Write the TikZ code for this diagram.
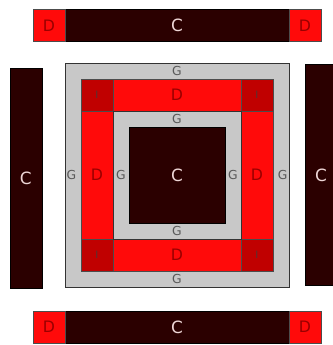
\documentclass[tikz,border=0pt]{standalone}
\usepackage{fontspec}
\setmainfont{DejaVu Sans}
\usepackage{tikz}
\usetikzlibrary{calc}
\definecolor{quiltdark}{HTML}{2B0000}
\definecolor{quiltred}{HTML}{FF0A0A}
\definecolor{quiltdeep}{HTML}{C00000}
\definecolor{quiltgray}{HTML}{C8C8C8}
\definecolor{quiltpink}{HTML}{EED6D6}

\begin{document}
\begin{tikzpicture} [x=0.5cm, y=0.5cm,
	cpiece/.style={fill=quiltdark, draw=black, line width=0.5pt},
	dpiece/.style={fill=quiltred, draw=black!70, line width=0.5pt},
	epiece/.style={fill=quiltdeep, draw=black!70, line width=0.5pt},
	gpiece/.style={fill=quiltgray, draw=black!80, line width=0.6pt},
	clabel/.style={text=quiltpink, font=\fontsize{15}{15}\selectfont},
	dlabel/.style={text=quiltdeep!80!black, font=\fontsize{14}{14}\selectfont},
	elabel/.style={text=quiltdark!80, font=\fontsize{9}{9}\selectfont},
	glabel/.style={text=black!65, font=\fontsize{11}{11}\selectfont}]
				\useasboundingbox (-4.0625,-3.625) rectangle (16.75,17.94);
				% frame: outer gray ring
				\draw[gpiece] (0,0) rectangle (14,14);
				% red ring
				\draw[dpiece] (3,11) rectangle (11,13);
				\draw[dpiece] (3,1) rectangle (11,3);
				\draw[dpiece] (1,3) rectangle (3,11);
				\draw[dpiece] (11,3) rectangle (13,11);
				\foreach \x in {1,11}
				\foreach \y in {1,11}
				\draw[epiece] (\x,\y) rectangle (\x+2,\y+2);
				% inner gray and centre
				\draw[gpiece] (3,3) rectangle (11,11);
				\draw[cpiece] (4,4) rectangle (10,10);
				\node[clabel] (cmid) at (7,7) {C};
				\node[dlabel] (dtop) at (7,12) {D};
				\node[dlabel] (dbot) at (7,2) {D};
				\node[dlabel] (dleft) at (2,7) {D};
				\node[dlabel] (dright) at (12,7) {D};
				\foreach \x in {2,12}
				\foreach \y in {2,12}
				\node[elabel] (e\x\y) at (\x,\y) {I};
				\foreach \p/\q [count=\i] in {7/13.5,7/0.5,0.4/7,13.6/7,7/10.5,7/3.5,3.5/7,10.5/7}
				\node[glabel] (g\i) at (\p,\q) {G};

				% top and bottom strips
				\foreach \y/\n in {15.35/top,-3.5/bot}{
				\draw[cpiece] (-2,\y) rectangle (16,\y+2);
				\draw[dpiece] (-2,\y) rectangle (0,\y+2);
				\draw[dpiece] (14,\y) rectangle (16,\y+2);
				\node[clabel] (c\n) at (7,\y+1) {C};
				\node[dlabel] (d\n l) at (-1,\y+1) {D};
				\node[dlabel] (d\n r) at (15,\y+1) {D};
				}
				% side strips
				\draw[cpiece] (-3.45,-0.1) rectangle (-1.45,13.7);
				\node[clabel] (cleft) at (-2.45,6.8) {C};
				\draw[cpiece] (15,0.1) rectangle (17,13.9);
				\node[clabel] (cright) at (16,7) {C};
\end{tikzpicture}
\end{document}
